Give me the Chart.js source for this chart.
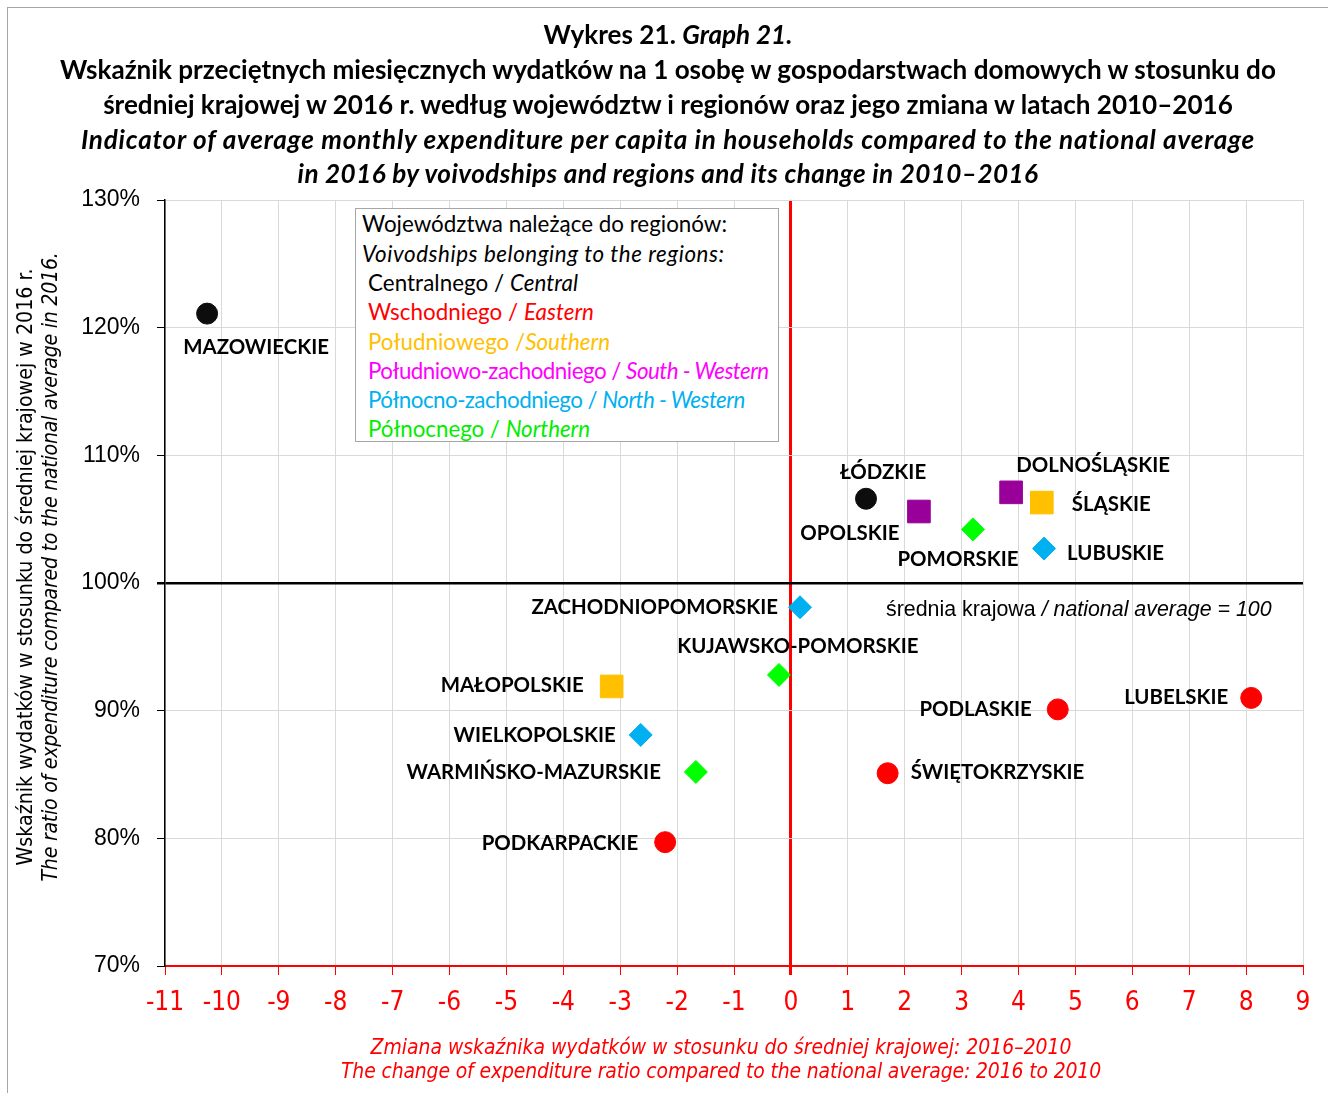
<!DOCTYPE html>
<html><head><meta charset="utf-8">
<script src="https://cdn.jsdelivr.net/npm/chart.js"></script>
<style>
html,body{margin:0;padding:0;background:#fff;width:1328px;height:1093px;overflow:hidden;position:relative;}
#frame{position:absolute;left:7px;top:7px;width:1340px;height:1100px;border-left:1px solid #a6a6a6;border-top:1px solid #a6a6a6;}
#c{position:absolute;left:0;top:0;}
.ln{position:absolute;white-space:nowrap;line-height:0;color:#000;}
#legend{position:absolute;left:355px;top:208px;width:424px;height:234px;border:1px solid #a6a6a6;background:#fff;box-sizing:border-box;}
</style>
</head><body>
<div id="frame"></div>
<canvas id="c" width="1328" height="1093"></canvas>
<div id="overlay"></div>
<script>
// ---------------- DATA ----------------
const voivodships = ['MAZOWIECKIE','ŁÓDZKIE','OPOLSKIE','DOLNOŚLĄSKIE','ŚLĄSKIE','MAŁOPOLSKIE','POMORSKIE','KUJAWSKO-POMORSKIE','WARMIŃSKO-MAZURSKIE','LUBUSKIE','ZACHODNIOPOMORSKIE','WIELKOPOLSKIE','LUBELSKIE','PODLASKIE','ŚWIĘTOKRZYSKIE','PODKARPACKIE'];
const changeX = [-10.26, 1.32, 2.25, 3.87, 4.41, -3.15, 3.20, -0.21, -1.67, 4.45, 0.16, -2.64, 8.09, 4.69, 1.70, -2.21];
const ratioY = [121.1, 106.6, 105.6, 107.1, 106.3, 91.9, 104.2, 92.8, 85.2, 102.7, 98.1, 88.1, 91.0, 90.1, 85.1, 79.7];
const regionOf = [0, 0, 3, 3, 2, 2, 5, 5, 5, 4, 4, 4, 1, 1, 1, 1];
const regionsPl = ['Centralnego', 'Wschodniego', 'Południowego', 'Południowo-zachodniego', 'Północno-zachodniego', 'Północnego'];
const regionsEn = ['Central', 'Eastern', 'Southern', 'South - Western', 'North - Western', 'Northern'];
const regionSep = [' / ', ' / ', ' /', ' / ', ' / ', ' / '];
const xTicks = {min: -11, max: 9, step: 1};
const yTicks = {min: 70, max: 130, step: 10};

// ---------------- STYLE ----------------
const markerColor = ['#0d0d0d', '#ff0000', '#ffc000', '#990099', '#00b0f0', '#00ff00'];
const textColor   = ['#000000', '#ff0000', '#ffc000', '#ff00ff', '#00b0f0', '#00ee00'];
const markerShape = ['circle', 'circle', 'rect', 'rect', 'rectRot', 'rectRot'];
const markerRadius = [10.5, 10.5, 16, 16, 11.5, 11.5];
const labelPlacement = {
  'MAZOWIECKIE': [49, 34, 'center'], 'ŁÓDZKIE': [17, -26, 'center'], 'OPOLSKIE': [-69, 22, 'center'],
  'DOLNOŚLĄSKIE': [82, -27, 'center'], 'ŚLĄSKIE': [30, 2, 'left'], 'POMORSKIE': [-15, 30, 'center'],
  'LUBUSKIE': [23, 5, 'left'], 'ZACHODNIOPOMORSKIE': [-22, 0, 'right'], 'KUJAWSKO-POMORSKIE': [19, -29, 'center'],
  'MAŁOPOLSKIE': [-28, -1, 'right'], 'WIELKOPOLSKIE': [-25, 0, 'right'], 'WARMIŃSKO-MAZURSKIE': [-35, 0, 'right'],
  'PODKARPACKIE': [-27, 1, 'right'], 'ŚWIĘTOKRZYSKIE': [23, -1, 'left'], 'PODLASKIE': [-26, 0, 'right'],
  'LUBELSKIE': [-23, 0, 'right']
};
const legendRowY = [224, 254, 283, 312, 342, 371, 400, 429];
const legendRowWidth = [365, 363, 210, 226, 242, 401, 377, 222];
const titleRowY = [34, 69, 104, 139, 173];
const titleRowWidth = [249, 1219, 1134, 1176, 742];
const FONT_SANS = 'Lato, "Open Sans", sans-serif';
const FONT_NARROW = '"Liberation Sans Narrow", "Arial Narrow", "DejaVu Sans Condensed", "Liberation Sans", sans-serif';
const FONT_ARIAL = '"Liberation Sans", Arial, sans-serif';

const mctx = document.createElement('canvas').getContext('2d');
function measure(parts, size, family){
  let w = 0;
  for (const p of parts){ mctx.font = `${p.i?'italic ':''}${p.b?'bold ':''}${size}px ${family}`; w += mctx.measureText(p.t).width; }
  return w;
}
function fitSize(parts, family, target){ return 100 * target / measure(parts, 100, family); }

const overlay = document.getElementById('overlay');
function addLine(parts, family, size, css, target){
  const d = document.createElement('div');
  d.className = 'ln';
  d.style.fontFamily = family; d.style.fontSize = size + 'px';
  Object.assign(d.style, css);
  if (target){
    const n = parts.reduce((a, p) => a + [...p.t].length, 0);
    d.style.letterSpacing = ((target - measure(parts, size, family)) / n) + 'px';
  }
  for (const p of parts){
    const s = document.createElement('span');
    s.textContent = p.t;
    if (p.b) s.style.fontWeight = 'bold';
    if (p.i) s.style.fontStyle = 'italic';
    if (p.c) s.style.color = p.c;
    d.appendChild(s);
  }
  overlay.appendChild(d);
  return d;
}

// ---------------- TITLE ----------------
const titleLines = [
  [{t: 'Wykres 21. ', b: 1}, {t: 'Graph 21.', b: 1, i: 1}],
  [{t: 'Wskaźnik przeciętnych miesięcznych wydatków na 1 osobę w gospodarstwach domowych w stosunku do', b: 1}],
  [{t: 'średniej krajowej w 2016 r. według województw i regionów oraz jego zmiana w latach 2010–2016', b: 1}],
  [{t: 'Indicator of average monthly expenditure per capita in households compared to the national average', b: 1, i: 1}],
  [{t: 'in 2016 by voivodships and regions and its change in 2010–2016', b: 1, i: 1}]
];
const titleSize = fitSize(titleLines[1], FONT_SANS, 1219);
titleLines.forEach((l, k) => addLine(l, FONT_SANS, titleSize,
  {left: '0px', width: '1336px', textAlign: 'center', top: titleRowY[k] + 'px'}, titleRowWidth[k]));

// ---------------- AXIS TITLES ----------------
const yTitle1 = [{t: 'Wskaźnik wydatków w stosunku do średniej krajowej w 2016 r.'}];
const yTitle2 = [{t: 'The ratio of expenditure compared to the national average in 2016.', i: 1}];
const yTitleSize = fitSize(yTitle1, FONT_NARROW, 597);
[[yTitle1, 25, 597], [yTitle2, 50, 629]].forEach(([p, x, w]) => addLine(p, FONT_NARROW, yTitleSize,
  {left: x + 'px', top: '567px', transform: 'translate(-50%,0) rotate(-90deg)'}, w));

const xTitle1 = [{t: 'Zmiana wskaźnika wydatków w stosunku do średniej krajowej: 2016–2010', i: 1}];
const xTitle2 = [{t: 'The change of expenditure ratio compared to the national average: 2016 to 2010', i: 1}];
const xTitleSize = fitSize(xTitle1, FONT_NARROW, 701);
[[xTitle1, 1047, 701], [xTitle2, 1071, 760]].forEach(([p, y, w]) => addLine(p, FONT_NARROW, xTitleSize,
  {left: '0px', width: '1442px', textAlign: 'center', top: y + 'px', color: '#ff0000'}, w));

// ---------------- LEGEND BOX ----------------
const legend = document.createElement('div'); legend.id = 'legend'; overlay.appendChild(legend);
const legHead1 = [{t: 'Województwa należące do regionów:'}];
const legHead2 = [{t: 'Voivodships belonging to the regions:', i: 1}];
const legSize = fitSize(legHead1, FONT_SANS, 365);
addLine(legHead1, FONT_SANS, legSize, {left: '362px', top: legendRowY[0] + 'px'}, legendRowWidth[0]);
addLine(legHead2, FONT_SANS, legSize, {left: '362px', top: legendRowY[1] + 'px'}, legendRowWidth[1]);
regionsPl.forEach((r, k) => addLine([{t: r + regionSep[k], c: textColor[k]}, {t: regionsEn[k], i: 1, c: textColor[k]}],
  FONT_SANS, legSize, {left: '368px', top: legendRowY[k + 2] + 'px'}, legendRowWidth[k + 2]));

// ---------------- CHART ----------------
const labelSize = fitSize([{t: 'MAZOWIECKIE', b: 1}], FONT_SANS, 146);
const noteParts = [{t: 'średnia krajowa '}, {t: '/ national average = 100', i: 1}];
const noteSize = fitSize(noteParts, FONT_ARIAL, 386);

const datasets = regionsEn.map((r, k) => ({
  label: r,
  data: voivodships.map((n, i) => ({x: changeX[i], y: ratioY[i], name: n})).filter((d, i) => regionOf[i] === k),
  backgroundColor: markerColor[k], borderColor: markerColor[k], borderWidth: 1,
  pointStyle: markerShape[k], pointRadius: markerRadius[k], pointHoverRadius: markerRadius[k]
}));

const labelPlugin = {
  id: 'pointLabels',
  afterDatasetsDraw(chart){
    const c = chart.ctx; c.save();
    c.fillStyle = '#000'; c.textBaseline = 'middle';
    c.font = `bold ${labelSize}px ${FONT_SANS}`;
    chart.data.datasets.forEach((ds, di) => {
      chart.getDatasetMeta(di).data.forEach((el, j) => {
        const name = ds.data[j].name, p = labelPlacement[name];
        c.textAlign = p[2];
        c.fillText(name, el.x + p[0], el.y + p[1]);
      });
    });
    let x = 886; const y = chart.scales.y.getPixelForValue(100) + 27;
    c.textAlign = 'left';
    noteParts.forEach(p => { c.font = `${p.i?'italic ':''}${noteSize}px ${FONT_ARIAL}`; c.fillText(p.t, x, y); x += c.measureText(p.t).width; });
    c.restore();
  }
};

new Chart(document.getElementById('c'), {
  type: 'scatter',
  data: {datasets},
  plugins: [labelPlugin],
  options: {
    responsive: false, animation: false, events: [],
    layout: {padding: {left: 75, right: 25, top: 200, bottom: 67}},
    plugins: {legend: {display: false}, tooltip: {enabled: false}},
    scales: {
      x: {
        type: 'linear', min: xTicks.min, max: xTicks.max,
        ticks: {stepSize: xTicks.step, color: '#ff0000', font: {family: FONT_NARROW, size: 26}, padding: 13, maxRotation: 0, autoSkip: false},
        grid: {color: c => c.tick && c.tick.value === 0 ? '#ff0000' : '#d9d9d9', lineWidth: c => c.tick && c.tick.value === 0 ? 3 : 1,
               tickColor: '#ff0000', tickLength: 9},
        border: {color: '#ff0000', width: 2},
        afterFit: s => { s.height = 60; }
      },
      y: {
        min: yTicks.min, max: yTicks.max,
        ticks: {stepSize: yTicks.step, callback: v => v + '%', color: '#000', font: {family: FONT_ARIAL, size: 23}, padding: 17},
        grid: {color: c => c.tick && c.tick.value === 100 ? '#000' : '#d9d9d9', lineWidth: c => c.tick && c.tick.value === 100 ? 2.5 : 1,
               tickColor: '#000', tickLength: 8},
        border: {color: '#000', width: 1.5},
        afterFit: s => { s.width = 90; }
      }
    }
  }
});
</script>
</body></html>
